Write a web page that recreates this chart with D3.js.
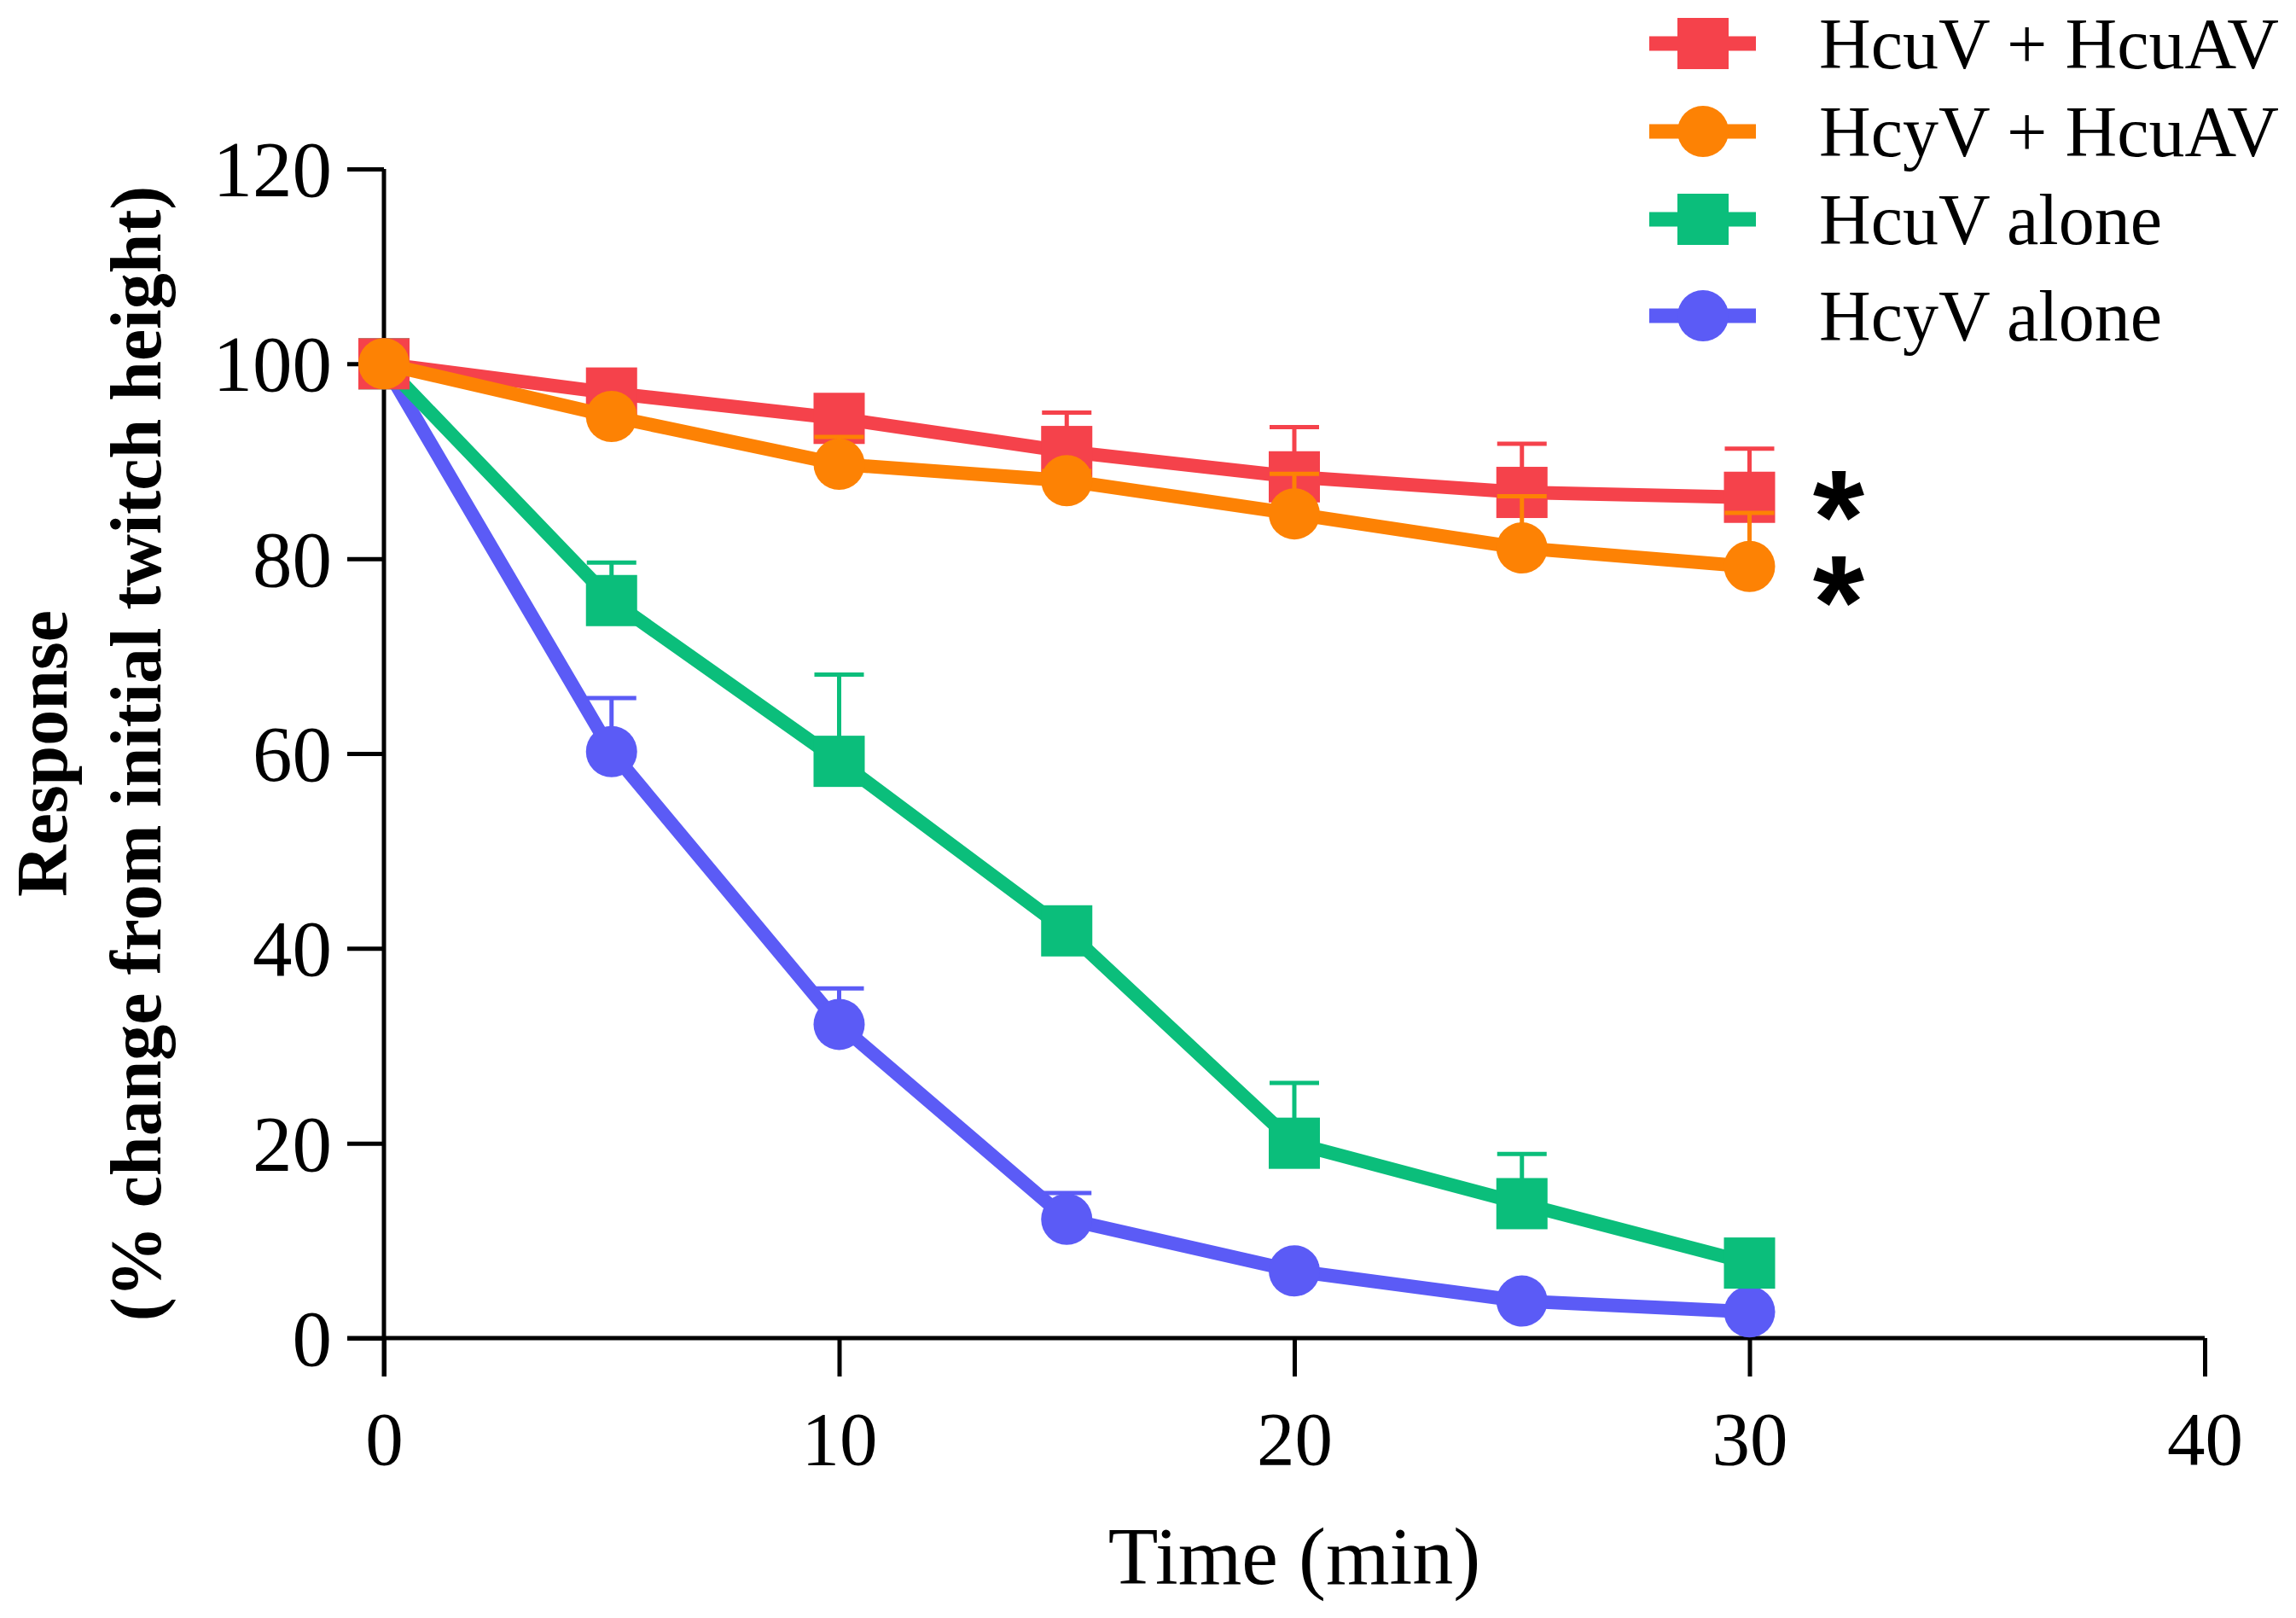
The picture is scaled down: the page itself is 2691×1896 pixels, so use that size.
<!DOCTYPE html>
<html>
<head>
<meta charset="utf-8">
<script src="https://cdn.jsdelivr.net/npm/d3@7"></script>
<style>
html,body{margin:0;padding:0;background:#fff;}
svg{display:block;}
</style>
</head>
<body>
<svg id="chart" width="2691" height="1896"></svg>
<script>
// ---- data ----
const times = [0, 5, 10, 15, 20, 25, 30];
const seriesNames = ["HcuV + HcuAV", "HcyV + HcuAV", "HcuV alone", "HcyV alone"];
const seriesColors = ["#F5424B", "#FD8204", "#0BBE7B", "#5B5BF6"];
const seriesShapes = ["square", "circle", "square", "circle"];
const hcuvHcuav = [100, 97.0, 94.4, 91.0, 88.4, 86.8, 86.3];
const hcuvHcuavErr = [0, 0.8, 1.2, 4.0, 5.1, 5.0, 5.0];
const hcyvHcuav = [100, 94.6, 89.7, 88.0, 84.6, 81.1, 79.2];
const hcyvHcuavErr = [0, 0.5, 2.8, 1.0, 4.1, 5.3, 5.5];
const hcuvAlone = [100, 75.7, 59.2, 41.8, 20.0, 13.8, 7.7];
const hcuvAloneErr = [0, 3.9, 8.9, 0.8, 6.2, 5.1, 0.5];
const hcyvAlone = [100, 60.2, 32.2, 12.2, 6.9, 3.8, 2.7];
const hcyvAloneErr = [0, 5.5, 3.7, 2.7, 0.5, 0.3, 0.3];
const xTicks = [0, 10, 20, 30, 40];
const yTicks = [0, 20, 40, 60, 80, 100, 120];
const starredSeries = [0, 1];
const xTitle = "Time (min)";
const yTitle1 = "Response";
const yTitle2 = "(% change from initial twitch height)";

const seriesValues = [hcuvHcuav, hcyvHcuav, hcuvAlone, hcyvAlone];
const seriesErrors = [hcuvHcuavErr, hcyvHcuavErr, hcuvAloneErr, hcyvAloneErr];

// ---- layout ----
const svg = d3.select("#chart");
const serif = "'Liberation Serif','Times New Roman',Times,serif";
const x = d3.scaleLinear().domain([0, 40]).range([450, 2584]);
const y = d3.scaleLinear().domain([0, 120]).range([1568, 198]);
const markerSize = 60, lineW = 16, axisW = 5;

// axes
const gx = svg.append("g").attr("transform", `translate(0,${y(0)})`)
  .call(d3.axisBottom(x).tickValues(xTicks).tickSize(45).tickSizeOuter(0));
gx.select(".domain").attr("stroke-width", axisW).attr("d", `M${x(0) - 43},0H${x(40)}`);
gx.selectAll(".tick line").attr("stroke-width", axisW);
gx.selectAll(".tick text").attr("dy", null).attr("y", 148)
  .attr("font-family", serif).attr("font-size", 89).attr("fill", "#000");

const gy = svg.append("g").attr("transform", `translate(${x(0)},0)`)
  .call(d3.axisLeft(y).tickValues(yTicks).tickSize(43).tickSizeOuter(0));
gy.select(".domain").attr("stroke-width", axisW).attr("d", `M0,${y(120)}V${y(0) + 45}`);
gy.selectAll(".tick line").attr("stroke-width", axisW);
gy.selectAll(".tick text").attr("x", -61).attr("dy", "0.34em")
  .attr("font-family", serif).attr("font-size", 93).attr("fill", "#000");

// titles
svg.append("text").attr("x", x(20)).attr("y", 1856).attr("text-anchor", "middle")
  .attr("font-family", serif).attr("font-size", 96).text(xTitle);
const yc = (y(0) + y(120)) / 2;
svg.append("text").attr("transform", `translate(78,${yc}) rotate(-90)`).attr("text-anchor", "middle")
  .attr("font-family", serif).attr("font-weight", "bold").attr("font-size", 84).text(yTitle1);
svg.append("text").attr("transform", `translate(188,${yc}) rotate(-90)`).attr("text-anchor", "middle")
  .attr("font-family", serif).attr("font-weight", "bold").attr("font-size", 84).text(yTitle2);

function drawMarker(g, shape, cx, cy, color) {
  if (shape === "square") {
    g.append("rect").attr("x", cx - markerSize / 2).attr("y", cy - markerSize / 2)
      .attr("width", markerSize).attr("height", markerSize).attr("fill", color);
  } else {
    g.append("circle").attr("cx", cx).attr("cy", cy).attr("r", markerSize / 2).attr("fill", color);
  }
}

// series, drawn bottom-up: blue, green, red, orange
const drawOrder = [3, 2, 0, 1];
const line = d3.line().x(d => x(d[0])).y(d => y(d[1]));
drawOrder.forEach(si => {
  const g = svg.append("g");
  const col = seriesColors[si];
  const pts = times.map((t, i) => [t, seriesValues[si][i]]);
  g.append("path").attr("d", line(pts)).attr("fill", "none")
    .attr("stroke", col).attr("stroke-width", lineW).attr("stroke-linejoin", "round");
  // error bars (upper)
  times.forEach((t, i) => {
    const e = seriesErrors[si][i];
    if (e <= 0) return;
    const top = y(seriesValues[si][i] + e);
    g.append("line").attr("x1", x(t)).attr("x2", x(t)).attr("y1", y(seriesValues[si][i])).attr("y2", top)
      .attr("stroke", col).attr("stroke-width", 5);
    g.append("line").attr("x1", x(t) - 29).attr("x2", x(t) + 29).attr("y1", top).attr("y2", top)
      .attr("stroke", col).attr("stroke-width", 5);
  });
  pts.forEach(p => drawMarker(g, seriesShapes[si], x(p[0]), y(p[1]), col));
});

// significance stars: one text node, each glyph placed by per-character x/y lists
const starOffset = [-12, 7];
const starXs = starredSeries.map(() => 2155);
const starYs = starredSeries.map((si, k) => y(seriesValues[si][seriesValues[si].length - 1]) + starOffset[k] + 88);
svg.append("text").attr("text-anchor", "middle")
  .attr("font-family", "'Liberation Sans',Arial,sans-serif")
  .attr("font-weight", "bold").attr("font-size", 155)
  .attr("x", starXs.join(" ")).attr("y", starYs.join(" "))
  .text(starredSeries.map(() => "*").join(""));

// legend
const legendRows = [51, 154, 257, 370];
seriesNames.forEach((name, i) => {
  const g = svg.append("g").attr("transform", `translate(0,${legendRows[i]})`);
  g.append("line").attr("x1", 1933).attr("x2", 2058).attr("y1", 0).attr("y2", 0)
    .attr("stroke", seriesColors[i]).attr("stroke-width", 17);
  drawMarker(g, seriesShapes[i], 1996, 0, seriesColors[i]);
  g.append("text").attr("x", 2132).attr("y", 29).attr("font-family", serif)
    .attr("font-size", 84).attr("fill", "#000").text(name);
});
</script>
</body>
</html>
